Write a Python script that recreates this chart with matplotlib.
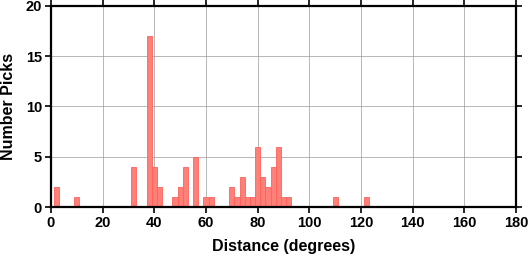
import matplotlib
matplotlib.use('Agg')
import matplotlib.pyplot as plt

# --- Histogram data (bin centres in degrees, 2-degree bins) ---
distance = [2, 10, 32, 38, 40, 42, 48, 50, 52, 56, 60, 62,
            70, 72, 74, 76, 78, 80, 82, 84, 86, 88, 90, 92, 110, 122]
picks = [2, 1, 4, 17, 4, 2, 1, 2, 4, 5, 1, 1,
         2, 1, 3, 1, 1, 6, 3, 2, 4, 6, 1, 1, 1, 1]
bin_width = 2

x_ticks = list(range(0, 181, 20))
y_ticks = [0, 5, 10, 15, 20]

plt.rcParams['font.family'] = ['Liberation Sans', 'DejaVu Sans']
plt.rcParams['font.weight'] = 'bold'

fig = plt.figure(figsize=(5.3, 2.58), dpi=100)
ax = fig.add_axes([0.0962, 0.1965, 0.8774, 0.7815])

ax.bar(distance, picks, width=bin_width, align='center',
       facecolor='#ff8078', edgecolor='#ff6258', linewidth=0.6, zorder=2)

ax.set_xlim(0, 180)
ax.set_ylim(0, 20)
ax.set_xticks(x_ticks)
ax.set_yticks(y_ticks)
ax.grid(True, color='#9a9a9a', linewidth=0.5, zorder=0)
ax.set_axisbelow(True)

ax.tick_params(axis='both', direction='out', length=4, width=1.2,
               labelsize=10.5, colors='black', pad=2.5)
ax.tick_params(top=True, right=True, labeltop=False, labelright=False)
for lab in ax.get_xticklabels() + ax.get_yticklabels():
    lab.set_fontweight('bold')
for spine in ax.spines.values():
    spine.set_linewidth(1.6)

ax.set_xlabel('Distance (degrees)', fontsize=11.5, fontweight='bold', labelpad=6)
ax.set_ylabel('Number Picks', fontsize=11.5, fontweight='bold', labelpad=7)

fig.savefig('out.png', dpi=100)
